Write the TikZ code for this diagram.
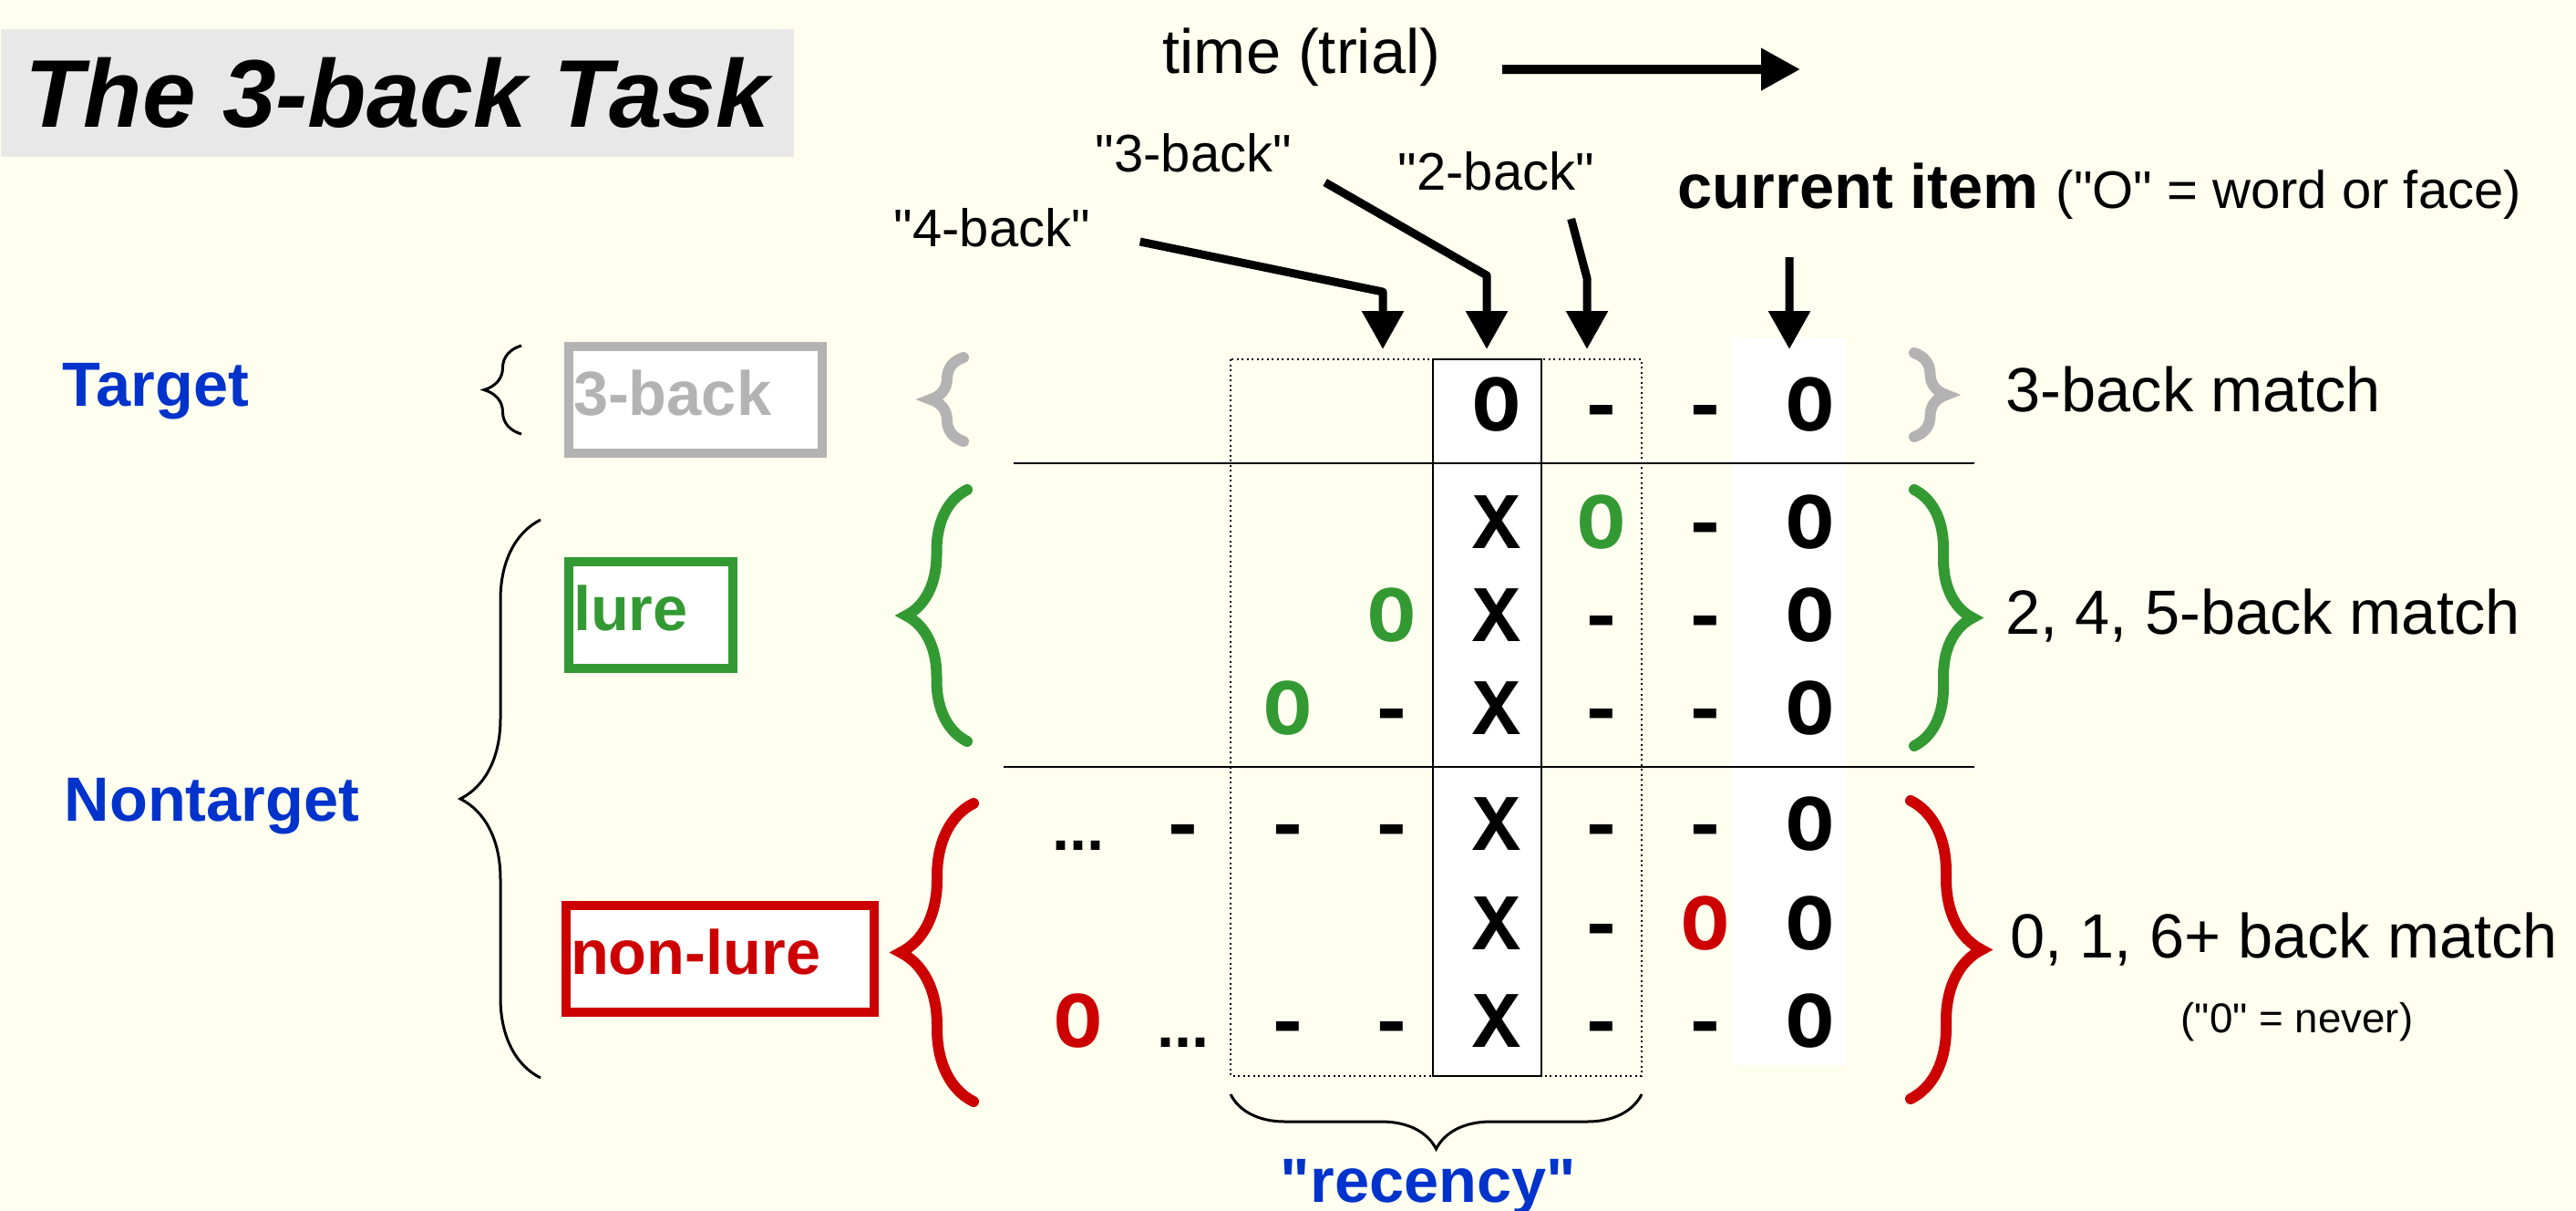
\documentclass[tikz,border=0pt]{standalone}
\usepackage{fontspec}
\setmainfont{Liberation Sans}[Ligatures=TeXOff]
\setmonofont{Liberation Mono}
\usepackage{xcolor}
\usepackage{tikz}
\usetikzlibrary{arrows.meta, decorations.pathreplacing, calc}

\definecolor{bgc}{RGB}{255,255,240}
\definecolor{titlegray}{RGB}{232,232,232}
\definecolor{tgtgray}{RGB}{179,179,179}
\definecolor{lurec}{RGB}{51,153,51}
\definecolor{nonc}{RGB}{204,0,0}
\definecolor{catblue}{RGB}{0,51,204}

\begin{document}
\begin{tikzpicture}[
    txt/.style={inner sep=0pt, font=\fontsize{19.5}{23}\selectfont},
    tag/.style={inner sep=0pt, font=\fontsize{16.5}{20}\selectfont},
    cat/.style={inner sep=0pt, text=catblue, font=\bfseries\fontsize{19.5}{23}\selectfont},
    kind/.style={draw, line width=0.1cm, fill=white, inner sep=0pt, inner xsep=0.05cm, align=left,
                 text height=0.75cm, text depth=0.42cm, anchor=north west,
                 font=\bfseries\fontsize{19.5}{23}\selectfont},
    cell/.style={inner sep=0pt, text height=0.58cm, text depth=0pt,
                 font=\ttfamily\bfseries\fontsize{25}{28}\selectfont},
    pointer/.style={line width=0.09cm, line join=round, -{Triangle[length=0.42cm, width=0.44cm]}},
    thinbrace/.style={decorate, line width=0.03cm, decoration={brace, amplitude=#1}},
    thickbrace/.style={decorate, line width=0.12cm, line cap=round, decoration={brace, amplitude=#1}}
]
    % page
    \fill[bgc] (0,0) rectangle (28.26,-13.27);
    \useasboundingbox (0,0) rectangle (28.26,-13.27);

    % Title and time axis
    \node[fill=titlegray, minimum width=8.70cm, minimum height=1.40cm, anchor=north west, inner sep=0pt,
          font=\bfseries\itshape\fontsize{30}{36}\selectfont] (title) at (0,-0.31) {The 3-back Task};
    \node[txt, anchor=base west] (time) at (12.75,-0.80) {time (trial)};
    \coordinate (timeend) at (19.75,-0.76);
    \draw[line width=0.1cm, -{Triangle[length=0.43cm, width=0.44cm]}] ($(time.base east)+(0.67,0.04)$) -- (timeend);

    % Columns
    \fill[white] (19.00,-3.70) rectangle (20.25,-11.68);
    \fill[white] (15.72,-3.94) rectangle (16.91,-11.80);
    \draw[line width=0.02cm] (11.12,-5.08) -- (21.66,-5.08);
    \draw[line width=0.02cm] (11.01,-8.41) -- (21.66,-8.41);
    \draw[densely dotted, line width=0.02cm] (13.50,-3.94) rectangle (18.01,-11.80);
    \draw[line width=0.02cm] (15.72,-3.94) rectangle (16.91,-11.80);

    % Pointer labels
    \node[tag, anchor=base west] (back4) at (9.80,-2.70) {"4-back"};
    \node[tag, anchor=base west] (back3) at (12.01,-1.88) {"3-back"};
    \node[tag, anchor=base west] (back2) at (15.33,-2.08) {"2-back"};
    \node[txt, anchor=base west] (current) at (18.40,-2.28)
        {\textbf{current item} {\fontsize{16.5}{20}\selectfont ("O" = word or face)}};
    \coordinate (tip4) at (15.17,-3.83);
    \coordinate (tip3) at (16.31,-3.83);
    \coordinate (tip2) at (17.41,-3.83);
    \coordinate (tip0) at (19.63,-3.83);
    \draw[pointer] ($(back4.base east)+(0.54,0.05)$) -- ($(tip4)+(0,0.63)$) -- (tip4);
    \draw[pointer] ($(back3.base east)+(0.36,-0.12)$) -- ($(tip3)+(0,0.81)$) -- (tip3);
    \draw[pointer] ($(back2.base east)+(-0.26,-0.32)$) -- ($(tip2)+(0,0.78)$) -- (tip2);
    \draw[pointer] ($(current.base west)+(1.23,-0.54)$) -- (tip0);

    % Categories
    \node[cat, anchor=base west] (target) at (0.68,-4.45) {Target};
    \node[cat, anchor=base west] (nontarget) at (0.70,-9.00) {Nontarget};
    \draw[thinbrace=0.41cm] (5.72,-4.76) -- (5.72,-3.79);
    \draw[thinbrace=0.88cm] (5.93,-11.82) -- (5.93,-5.70);
    \node[kind, draw=tgtgray, text=tgtgray, text width=2.68cm] (threeback) at (6.19,-3.75) {3-back};
    \node[kind, draw=lurec, text=lurec, text width=1.70cm] (lure) at (6.19,-6.11) {lure};
    \node[kind, draw=nonc, text=nonc, text width=3.28cm] (nonlure) at (6.16,-9.88) {non-lure};

    % Braces round the rows
    \draw[thickbrace=0.36cm, tgtgray] (10.57,-4.84) -- (10.57,-3.92);
    \draw[thickbrace=0.35cm, tgtgray] (21.00,-3.87) -- (21.00,-4.79);
    \draw[thickbrace=0.67cm, lurec] (10.61,-8.13) -- (10.61,-5.37);
    \draw[thickbrace=0.64cm, lurec] (21.00,-5.37) -- (21.00,-8.18);
    \draw[thickbrace=0.80cm, nonc] (10.68,-12.08) -- (10.68,-8.81);
    \draw[thickbrace=0.78cm, nonc] (20.96,-8.78) -- (20.96,-12.05);
    \draw[thinbrace=0.6cm] (18.01,-12.00) -- (13.50,-12.00);
    \node[cat, anchor=base] (recency) at (15.67,-13.18) {"recency"};

    % Matches
    \node[txt, anchor=base west] (match3) at (22.00,-4.51) {3-back match};
    \node[txt, anchor=base west] (matchlure) at (22.00,-6.95) {2, 4, 5-back match};
    \node[txt, anchor=base west] (matchnon) at (22.05,-10.50) {0, 1, 6+ back match};
    \node[inner sep=0pt, anchor=base west, font=\fontsize{13}{16}\selectfont] (never) at (23.92,-11.32) {("0" = never)};

    % Trial sequences
    \foreach \r/\y/\k/\g/\c in {
        0/4.43/3/O/black, 0/4.43/2/-/black, 0/4.43/1/-/black, 0/4.43/0/O/black,
        1/5.72/3/X/black, 1/5.72/2/O/lurec, 1/5.72/1/-/black, 1/5.72/0/O/black,
        2/6.74/4/O/lurec, 2/6.74/3/X/black, 2/6.74/2/-/black, 2/6.74/1/-/black, 2/6.74/0/O/black,
        3/7.76/5/O/lurec, 3/7.76/4/-/black, 3/7.76/3/X/black, 3/7.76/2/-/black, 3/7.76/1/-/black, 3/7.76/0/O/black,
        4/9.03/6/-/black, 4/9.03/5/-/black, 4/9.03/4/-/black, 4/9.03/3/X/black, 4/9.03/2/-/black, 4/9.03/1/-/black, 4/9.03/0/O/black,
        5/10.12/3/X/black, 5/10.12/2/-/black, 5/10.12/1/O/nonc, 5/10.12/0/O/black,
        6/11.19/7/O/nonc, 6/11.19/5/-/black, 6/11.19/4/-/black, 6/11.19/3/X/black, 6/11.19/2/-/black, 6/11.19/1/-/black, 6/11.19/0/O/black}
        \node[cell, text=\c] (r\r-\k) at ({19.86-1.147*\k},-\y) {\g};
    \node[cell, font=\bfseries\fontsize{19.5}{23}\selectfont] (dots4) at (11.83,-9.03) {...};
    \node[cell, font=\bfseries\fontsize{19.5}{23}\selectfont] (dots6) at (12.98,-11.19) {...};
\end{tikzpicture}
\end{document}
